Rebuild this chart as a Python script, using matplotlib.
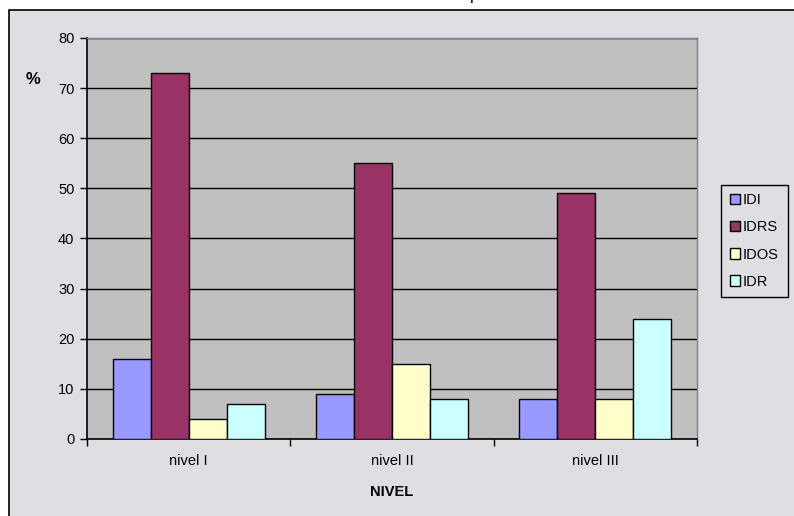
import matplotlib.pyplot as plt
import numpy as np
from matplotlib.patches import Rectangle

plt.rcParams['font.family'] = ['Liberation Sans', 'DejaVu Sans']

niveles = ['nivel I', 'nivel II', 'nivel III']
series = ['IDI', 'IDRS', 'IDOS', 'IDR']
idi = [16, 9, 8]
idrs = [73, 55, 49]
idos = [4, 15, 8]
idr = [7, 8, 24]
colores = ['#9999FF', '#993366', '#FFFFCC', '#CCFFFF']

W, H = 794, 516
fig = plt.figure(figsize=(W / 100, H / 100), dpi=100)
fig.patch.set_facecolor('white')

# chart area frame (cut on the right and bottom)
fig.patches.append(Rectangle((9 / W, -0.05), 1.2, 1 - 9.5 / H + 0.05,
                             transform=fig.transFigure, facecolor='#DEDEE3',
                             edgecolor='black', linewidth=1.2, zorder=-10))
# remains of the title above the frame
fig.text(470 / W, 1.0, 'p', fontsize=12, ha='left', va='baseline')

ax = fig.add_axes([87 / W, 77 / H, 610 / W, 401 / H])
ax.set_facecolor('#C0C0C0')

x = np.arange(len(niveles))
ancho = 0.187
for i, (nombre, vals, c) in enumerate(zip(series, [idi, idrs, idos, idr], colores)):
    ax.bar(x + (i - 1.5) * ancho, vals, ancho, color=c, edgecolor='black',
           linewidth=1, label=nombre, zorder=3)

ax.set_xlim(-0.5, 2.5)
ax.set_ylim(0, 80)
ax.set_yticks(range(0, 81, 10))
ax.yaxis.grid(True, color='black', linewidth=1, zorder=1)
ax.set_axisbelow(True)

ax.set_xticks(x)
ax.set_xticklabels(niveles, fontsize=10.5)
ax.set_xticks([-0.5, 0.5, 1.5, 2.5], minor=True)
ax.tick_params(axis='x', which='major', length=0, pad=11)
ax.tick_params(axis='x', which='minor', length=5, width=1, color='black')
ax.tick_params(axis='y', labelsize=10.5, length=5, width=1, color='black', pad=4)

for s in ['top', 'right']:
    ax.spines[s].set_color('#808080')
    ax.spines[s].set_linewidth(1)
for s in ['left', 'bottom']:
    ax.spines[s].set_color('black')
    ax.spines[s].set_linewidth(1.2)

ax.set_xlabel('NIVEL', fontsize=10.5, fontweight='bold', labelpad=12)
fig.text(33 / W, 1 - 80 / H, '%', fontsize=12, fontweight='bold',
         ha='center', va='center')

leg = fig.legend(loc='center left', bbox_to_anchor=(721 / W, 1 - 241 / H),
                 fontsize=10.5, frameon=True, fancybox=False, edgecolor='black',
                 facecolor='#DEDEE3', framealpha=1, handlelength=0.7,
                 handleheight=0.7, handletextpad=0.2, labelspacing=0.9,
                 borderpad=0.6, borderaxespad=0)
leg.get_frame().set_linewidth(1)

fig.savefig('out.png', dpi=100)
